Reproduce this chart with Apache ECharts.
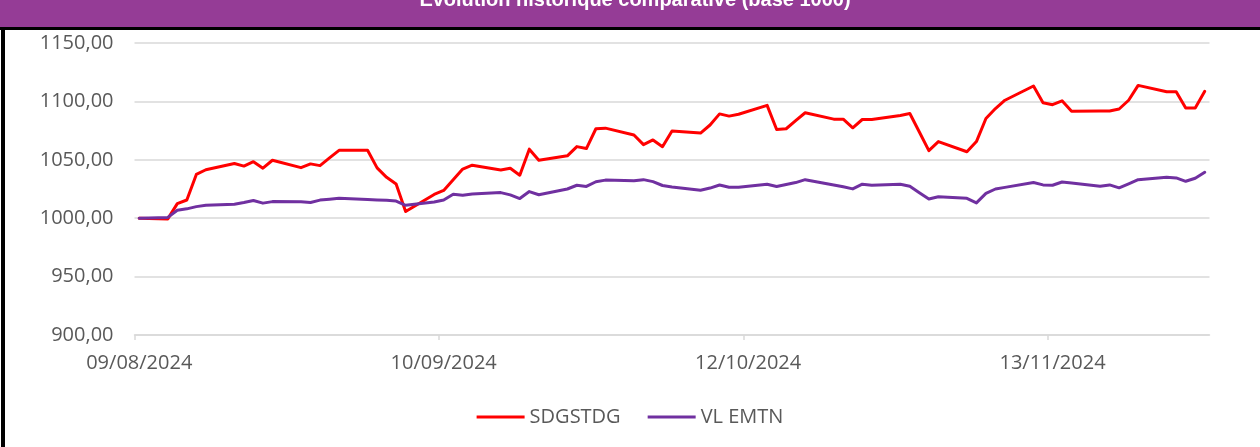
<!DOCTYPE html>
<html>
<head>
<meta charset="utf-8">
<script src="https://cdn.jsdelivr.net/npm/echarts@6/dist/echarts.min.js"></script>
<style>
  html, body { margin: 0; padding: 0; background: #fff; }
  #main { width: 1260px; height: 447px; }
</style>
</head>
<body>
<div id="main"></div>
<script>
// dates de valorisation (jours ouvrés)
var dates = [
  '09/08/2024', '12/08/2024', '13/08/2024', '14/08/2024', '15/08/2024', '16/08/2024',
  '19/08/2024', '20/08/2024', '21/08/2024', '22/08/2024', '23/08/2024',
  '26/08/2024', '27/08/2024', '28/08/2024', '29/08/2024', '30/08/2024',
  '02/09/2024', '03/09/2024', '04/09/2024', '05/09/2024', '06/09/2024',
  '09/09/2024', '10/09/2024', '11/09/2024', '12/09/2024', '13/09/2024',
  '16/09/2024', '17/09/2024', '18/09/2024', '19/09/2024', '20/09/2024',
  '23/09/2024', '24/09/2024', '25/09/2024', '26/09/2024', '27/09/2024',
  '30/09/2024', '01/10/2024', '02/10/2024', '03/10/2024', '04/10/2024',
  '07/10/2024', '08/10/2024', '09/10/2024', '10/10/2024', '11/10/2024',
  '14/10/2024', '15/10/2024', '16/10/2024', '17/10/2024', '18/10/2024',
  '21/10/2024', '22/10/2024', '23/10/2024', '24/10/2024', '25/10/2024',
  '28/10/2024', '29/10/2024', '30/10/2024', '31/10/2024', '01/11/2024',
  '04/11/2024', '05/11/2024', '06/11/2024', '07/11/2024', '08/11/2024',
  '11/11/2024', '12/11/2024', '13/11/2024', '14/11/2024', '15/11/2024',
  '18/11/2024', '19/11/2024', '20/11/2024', '21/11/2024', '22/11/2024',
  '25/11/2024', '26/11/2024', '27/11/2024', '28/11/2024', '29/11/2024'
]

var sdgstdg = [
  1000.0, 999.4, 1012.5, 1015.6, 1037.5, 1041.5,
  1046.8, 1044.6, 1048.4, 1042.8, 1049.6,
  1043.3, 1046.5, 1045.0, 1051.6, 1058.1,
  1058.1, 1043.1, 1035.0, 1029.3, 1005.7,
  1020.3, 1023.8, 1032.9, 1042.1, 1045.4,
  1041.3, 1042.8, 1036.8, 1059.1, 1049.6,
  1053.4, 1061.3, 1059.6, 1076.6, 1077.1,
  1071.2, 1063.0, 1067.0, 1061.2, 1074.7,
  1072.9, 1079.8, 1089.3, 1087.4, 1089.0,
  1096.6, 1076.0, 1076.6, 1083.5, 1090.3,
  1084.8, 1084.8, 1077.4, 1084.5, 1084.5,
  1088.0, 1089.6, 1073.8, 1057.9, 1065.6,
  1056.9, 1065.6, 1085.4, 1093.9, 1101.0,
  1113.2, 1098.8, 1097.2, 1100.5, 1091.6,
  1091.7, 1091.8, 1093.5, 1101.0, 1113.7,
  1108.2, 1108.3, 1094.3, 1094.3, 1108.6
]

var vlEmtn = [
  1000.0, 1000.7, 1006.8, 1008.0, 1009.9, 1011.0,
  1012.0, 1013.4, 1015.1, 1012.9, 1014.2,
  1014.0, 1013.4, 1015.5, 1016.3, 1017.0,
  1016.0, 1015.6, 1015.3, 1014.7, 1011.0,
  1013.8, 1015.6, 1020.5, 1019.6, 1020.7,
  1021.9, 1020.0, 1016.8, 1022.8, 1020.1,
  1025.0, 1028.2, 1027.2, 1031.2, 1032.6,
  1032.0, 1033.0, 1031.3, 1028.0, 1026.8,
  1023.9, 1025.8, 1028.4, 1026.5, 1026.5,
  1029.1, 1027.1, 1028.8, 1030.5, 1033.0,
  1028.5, 1026.9, 1025.1, 1029.1, 1028.2,
  1029.0, 1027.3, 1021.8, 1016.5, 1018.4,
  1017.0, 1013.1, 1021.2, 1025.0, 1026.4,
  1030.5, 1028.5, 1028.2, 1031.0, 1030.2,
  1027.4, 1028.5, 1026.0, 1029.4, 1033.0,
  1035.0, 1034.5, 1031.6, 1034.2, 1039.3
]

var xTickLabels = ['09/08/2024', '10/09/2024', '12/10/2024', '13/11/2024']
var seriesNames = ['SDGSTDG', 'VL EMTN']

// jours écoulés depuis la première date (point au milieu du jour, comme l'axe date d'Excel)
function dayOffset(str) {
  var p = str.split('/')
  var t = Date.UTC(+p[2], +p[1] - 1, +p[0])
  var q = dates[0].split('/')
  var t0 = Date.UTC(+q[2], +q[1] - 1, +q[0])
  return (t - t0) / 86400000 + 0.5
}

function toPairs(values) {
  return values.map(function(v, i) { return [dayOffset(dates[i]), v] })
}

var textColor = '#595959'
var gridColor = '#D9D9D9'
var font = '"Open Sans", "Noto Sans", sans-serif'

var chart = echarts.init(document.getElementById('main'), null, { renderer: 'canvas' })

var option = {
  animation: false,
  backgroundColor: '#fff',
  color: ['#FF0000', '#7030A0'],
  graphic: [
    { type: 'rect', shape: { x: 0, y: 0, width: 1260, height: 27 }, style: { fill: '#953C96' }, z: 10 },
    { type: 'rect', shape: { x: 0, y: 27, width: 1260, height: 3 }, style: { fill: '#000' }, z: 10 },
    { type: 'rect', shape: { x: 1, y: 27, width: 4, height: 420 }, style: { fill: '#000' }, z: 10 },
    {
      type: 'text',
      z: 11,
      style: {
        x: 635,
        y: 0,
        text: 'Evolution historique comparative (base 1000)',
        fill: '#fff',
        font: 'bold 20px "Liberation Sans", sans-serif',
        align: 'center',
        verticalAlign: 'middle'
      }
    }
  ],
  legend: {
    data: seriesNames,
    top: 402,
    left: 'center',
    icon: 'rect',
    itemWidth: 48,
    itemHeight: 3,
    itemGap: 27,
    textStyle: { color: textColor, fontSize: 20, fontFamily: font }
  },
  grid: {
    left: 134.5,
    right: 50.5,
    top: 43,
    bottom: 112
  },
  xAxis: {
    type: 'value',
    min: 0,
    max: 113,
    splitLine: { show: false },
    axisLine: { show: true, lineStyle: { color: gridColor, width: 1.5 } },
    axisTick: {
      show: true,
      length: 5,
      customValues: [0, 32, 64, 96],
      lineStyle: { color: gridColor, width: 1.5 }
    },
    axisLabel: {
      customValues: [0.5, 32.5, 64.5, 96.5],
      margin: 18,
      color: textColor,
      fontSize: 20,
      fontFamily: font,
      formatter: function(v) { return xTickLabels[Math.floor(v / 32)] }
    }
  },
  yAxis: {
    type: 'value',
    min: 900,
    max: 1150,
    interval: 50,
    axisLine: { show: false },
    axisTick: { show: false },
    splitLine: { lineStyle: { color: gridColor, width: 1.5 } },
    axisLabel: {
      margin: 21,
      color: textColor,
      fontSize: 20,
      fontFamily: font,
      formatter: function(v) { return v.toFixed(2).replace('.', ',') }
    }
  },
  series: [
    {
      name: seriesNames[0],
      type: 'line',
      data: toPairs(sdgstdg),
      showSymbol: false,
      symbol: 'none',
      lineStyle: { width: 3, cap: 'round', join: 'round' }
    },
    {
      name: seriesNames[1],
      type: 'line',
      data: toPairs(vlEmtn),
      showSymbol: false,
      symbol: 'none',
      lineStyle: { width: 3, cap: 'round', join: 'round' }
    }
  ]
}

chart.setOption(option)
</script>
</body>
</html>
